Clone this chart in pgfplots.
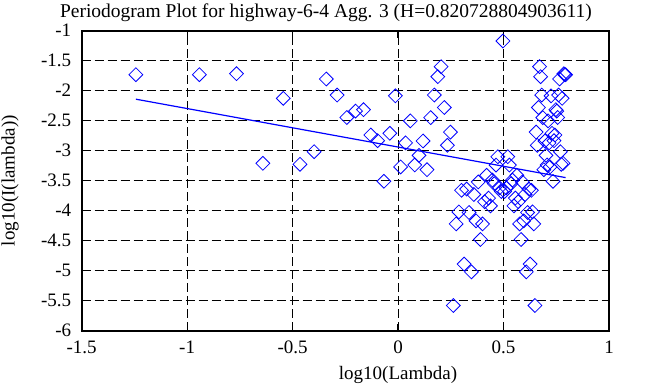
\documentclass[border=0pt]{standalone}
\usepackage{fontspec}
\setmainfont{Liberation Serif}
\usepackage{pgfplots}
\pgfplotsset{compat=1.18}
\begin{document}
\fontsize{19}{22}\selectfont
\begin{tikzpicture}
\begin{axis}[
  at={(0pt,0pt)}, anchor=south west,
  scale only axis, width=527.3pt, height=300pt,
  xmin=-1.5, xmax=1, ymin=-6, ymax=-1,
  xtick={-1.5,-1,-0.5,0,0.5,1},
  xticklabels={-1.5,-1,-0.5,0,0.5,1},
  ytick={-6,-5.5,-5,-4.5,-4,-3.5,-3,-2.5,-2,-1.5,-1},
  yticklabels={-6,-5.5,-5,-4.5,-4,-3.5,-3,-2.5,-2,-1.5,-1},
  tick align=inside, major tick length=7pt,
  tick style={black, line width=1.2pt},
  axis line style={black, line width=2pt},
  grid=major,
  major grid style={black, line width=0.9pt, dash pattern=on 9pt off 4pt},
  ticklabel style={font=\fontsize{19}{22}\selectfont},
  xticklabel style={yshift=-4pt},
  yticklabel style={xshift=-4pt},
  every axis title shift=0pt,
  title={Periodogram Plot for highway-6-4 Agg. 3 (H=0.820728804903611)},
  title style={at={(axis description cs:0.4633,1.0590)}, anchor=center, font=\fontsize{19.5}{22}\selectfont, inner sep=0pt},
  xlabel={log10(Lambda)},
  xlabel style={at={(axis description cs:0.5999,-0.1477)}, anchor=center, font=\fontsize{19}{22}\selectfont, inner sep=0pt},
  ylabel={log10(I(lambda))},
  ylabel style={at={(axis description cs:-0.136,0.5)}, anchor=center, font=\fontsize{19}{22}\selectfont, inner sep=0pt},
  clip=false,
]
\addplot[only marks, mark=square, mark size=4.9pt, mark options={rotate=45, draw=blue, line width=0.8pt, fill=none}] coordinates {
(-1.2432,-1.733) (-0.9422,-1.733) (-0.7661,-1.717) (-0.6411,-3.210) (-0.5442,-2.127)
(-0.4651,-3.227) (-0.3981,-3.017) (-0.3401,-1.805) (-0.2890,-2.072) (-0.2432,-2.447)
(-0.2018,-2.340) (-0.1640,-2.316) (-0.1293,-2.738) (-0.0971,-2.833) (-0.0671,-3.510)
(-0.0391,-2.710) (-0.0128,-2.086) (0.0121,-3.270) (0.0356,-2.870) (0.0578,-2.503)
(0.0790,-3.238) (0.0992,-3.078) (0.1185,-2.838) (0.1370,-3.316) (0.1547,-2.449)
(0.1718,-2.072) (0.1882,-1.766) (0.2040,-1.599) (0.2192,-2.280) (0.2339,-2.910)
(0.2482,-2.690) (0.2620,-5.580) (0.2753,-4.220) (0.2883,-4.020) (0.3009,-3.660)
(0.3131,-4.890) (0.3250,-3.640) (0.3366,-4.030) (0.3479,-5.020) (0.3589,-3.730)
(0.3696,-4.170) (0.3801,-3.520) (0.3903,-4.480) (0.4003,-4.220) (0.4100,-3.850)
(0.4196,-3.410) (0.4289,-3.790) (0.4380,-3.920) (0.4470,-3.490) (0.4558,-3.550)
(0.4644,-3.240) (0.4728,-3.100) (0.4811,-3.620) (0.4892,-3.680) (0.4972,-1.172)
(0.5050,-3.680) (0.5127,-3.620) (0.5202,-3.100) (0.5277,-3.240) (0.5350,-3.550)
(0.5421,-3.490) (0.5492,-3.920) (0.5561,-3.790) (0.5630,-3.410) (0.5697,-3.850)
(0.5763,-4.220) (0.5829,-4.480) (0.5893,-3.520) (0.5957,-4.170) (0.6019,-3.730)
(0.6081,-5.020) (0.6141,-4.030) (0.6201,-3.640) (0.6260,-4.890) (0.6319,-3.660)
(0.6376,-4.020) (0.6433,-4.220) (0.6489,-5.580) (0.6544,-2.690) (0.6599,-2.910)
(0.6653,-2.280) (0.6706,-1.599) (0.6759,-1.766) (0.6811,-2.072) (0.6862,-2.449)
(0.6913,-3.316) (0.6963,-2.838) (0.7013,-3.078) (0.7062,-3.238) (0.7110,-2.503)
(0.7158,-2.870) (0.7206,-3.270) (0.7253,-2.086) (0.7299,-2.710) (0.7345,-3.510)
(0.7391,-2.833) (0.7436,-2.738) (0.7480,-2.316) (0.7524,-2.340) (0.7568,-2.447)
(0.7611,-2.072) (0.7654,-1.805) (0.7696,-3.017) (0.7738,-3.227) (0.7780,-2.127)
(0.7821,-3.210) (0.7862,-1.717) (0.7902,-1.733) (0.7942,-1.733)
};
\addplot[blue, line width=1.2pt, no marks] coordinates {(-1.2432,-2.1415) (0.7942,-3.4484)};
\end{axis}
\pgfresetboundingbox
\path (-81.7pt,-56.3pt) rectangle (576.3pt,330.7pt);
\end{tikzpicture}
\end{document}
